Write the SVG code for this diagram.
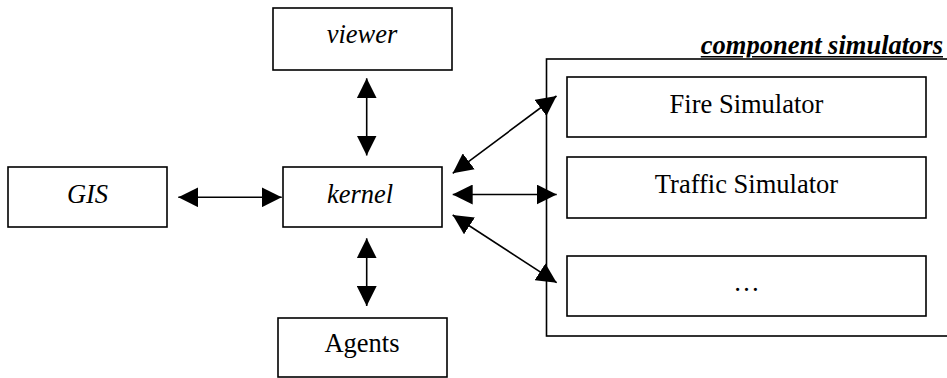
<svg xmlns="http://www.w3.org/2000/svg" width="947" height="378" viewBox="0 0 947 378">
  <style>
    .box { fill: #fff; stroke: #000; stroke-width: 1.6; }
    .frame { fill: none; stroke: #000; stroke-width: 1.6; }
    .lbl { font-family: "Liberation Serif", "Times New Roman", serif; font-size: 26.5px; fill: #000; text-anchor: middle; }
    .it { font-style: italic; }
    .title { font-family: "Liberation Serif", "Times New Roman", serif; font-size: 26.5px; font-style: italic; font-weight: bold; text-decoration: underline; text-anchor: end; fill: #000; }
    .conn { stroke: #000; stroke-width: 1.6; fill: none; marker-start: url(#ah); marker-end: url(#ah); }
  </style>
  <defs>
    <marker id="ah" markerUnits="userSpaceOnUse" markerWidth="20" markerHeight="20" refX="20" refY="10" orient="auto-start-reverse" viewBox="0 0 20 20">
      <path d="M0,0 L20,10 L0,20 z" fill="#000"/>
    </marker>
    <clipPath id="titleclip">
      <rect x="0" y="0" width="947" height="57.5"/>
    </clipPath>
  </defs>
  <rect width="947" height="378" fill="#fff"/>

  <g id="component-simulators">
    <rect class="frame" x="546.5" y="59" width="420" height="277"/>
    <text class="title" x="943" y="54" clip-path="url(#titleclip)">component simulators</text>
  </g>

  <g id="viewer">
    <rect class="box" x="273" y="8" width="179" height="62"/>
    <text class="lbl it" x="362" y="43">viewer</text>
  </g>
  <g id="gis">
    <rect class="box" x="8" y="167" width="159" height="60"/>
    <text class="lbl it" x="87.5" y="203">GIS</text>
  </g>
  <g id="kernel">
    <rect class="box" x="283" y="167" width="159" height="60"/>
    <text class="lbl it" x="360" y="203">kernel</text>
  </g>
  <g id="agents">
    <rect class="box" x="278" y="318" width="169" height="59"/>
    <text class="lbl" x="362" y="352">Agents</text>
  </g>
  <g id="fire-simulator">
    <rect class="box" x="567" y="77" width="359" height="60"/>
    <text class="lbl" x="746.5" y="113">Fire Simulator</text>
  </g>
  <g id="traffic-simulator">
    <rect class="box" x="567" y="157" width="359" height="61"/>
    <text class="lbl" x="746.5" y="193">Traffic Simulator</text>
  </g>
  <g id="more-simulators">
    <rect class="box" x="567" y="256" width="359" height="60"/>
    <text class="lbl" x="746.5" y="291">…</text>
  </g>

  <g id="connectors">
    <line class="conn" x1="366.7" y1="78.3" x2="366.7" y2="155.5"/>
    <line class="conn" x1="178.3" y1="197.3" x2="281.7" y2="197.3"/>
    <line class="conn" x1="366.7" y1="238.3" x2="366.7" y2="306"/>
    <line class="conn" x1="452.7" y1="173.3" x2="556.5" y2="96"/>
    <line class="conn" x1="452.7" y1="194.5" x2="556.7" y2="194.5"/>
    <line class="conn" x1="452.7" y1="215" x2="556.7" y2="282.7"/>
  </g>
</svg>
